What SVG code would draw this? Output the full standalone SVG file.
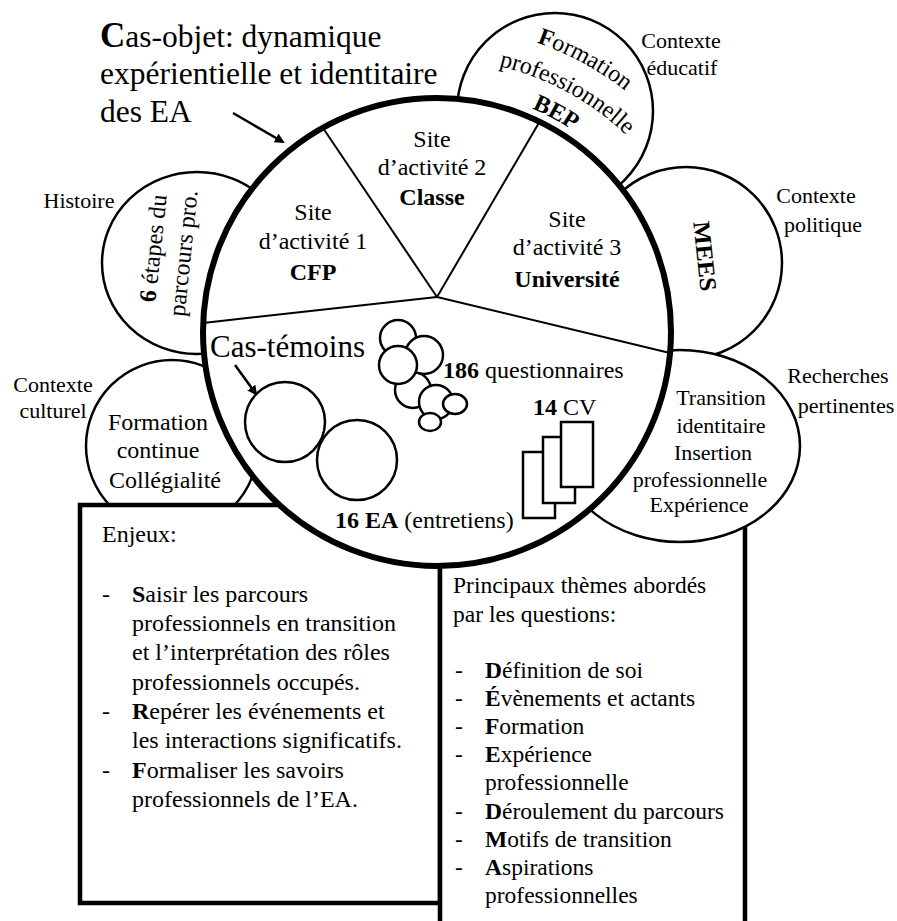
<svg xmlns="http://www.w3.org/2000/svg" width="897" height="921" viewBox="0 0 897 921">
<style>
text{font-family:"Liberation Serif","Times New Roman",serif;fill:#000}
.petal{fill:#fff;stroke:#000;stroke-width:2.5}
.box{fill:#fff;stroke:#000;stroke-width:4.5}
.thin{fill:#fff;stroke:#000;stroke-width:2.5}
.pie{stroke:#000;stroke-width:2;fill:none}
.lbl{font-size:22px;text-anchor:middle}
.in{font-size:24px;text-anchor:middle}
.b{font-weight:bold}
.list{font-size:24px}
.list2{font-size:23.5px}
.arrow{stroke:#000;stroke-width:2.5;fill:none;marker-end:url(#ah)}
</style>
<defs>
<marker id="ah" markerWidth="10" markerHeight="10" refX="8" refY="5" orient="auto" markerUnits="userSpaceOnUse" viewBox="0 0 10 10">
<path d="M0,0 L10,5 L0,10 z" fill="#000"/>
</marker>
<path id="arc1" d="M277.1,71.1 A306,306 0 0 1 742.9,324"/>
<path id="arc2" d="M294.4,99.2 A273,273 0 0 1 709.9,324.85"/>
<path id="arc3" d="M310,124.8 A243,243 0 0 1 679.9,325.6"/>
</defs>
<rect width="897" height="921" fill="#fff"/>

<g id="petal-histoire">
<ellipse class="petal" cx="197" cy="263" rx="95" ry="91"/>
</g>
<g id="petal-culturel">
<circle class="petal" cx="172" cy="446" r="86"/>
</g>
<g id="petal-educatif">
<circle class="petal" cx="555" cy="111" r="98"/>
</g>
<g id="petal-politique">
<circle class="petal" cx="686" cy="263" r="96"/>
</g>

<g id="box-enjeux">
<rect class="box" x="80" y="505" width="360" height="398"/>
<text class="list" x="102" y="542">Enjeux:</text>
<text class="list" x="102" y="602">-</text>
<text class="list" x="132" y="602"><tspan class="b">S</tspan>aisir les parcours</text>
<text class="list" x="132" y="631">professionnels en transition</text>
<text class="list" x="132" y="660">et l’interprétation des rôles</text>
<text class="list" x="132" y="690">professionnels occupés.</text>
<text class="list" x="102" y="719">-</text>
<text class="list" x="132" y="719"><tspan class="b">R</tspan>epérer les événements et</text>
<text class="list" x="132" y="748">les interactions significatifs.</text>
<text class="list" x="102" y="778">-</text>
<text class="list" x="132" y="778"><tspan class="b">F</tspan>ormaliser les savoirs</text>
<text class="list" x="132" y="807">professionnels de l’EA.</text>
</g>

<g id="box-themes">
<rect class="box" x="440" y="505" width="305" height="420"/>
<text class="list2" x="453" y="593">Principaux thèmes abordés</text>
<text class="list2" x="453" y="622">par les questions:</text>
<text class="list2" x="455" y="678">-</text>
<text class="list2" x="485" y="678"><tspan class="b">D</tspan>éfinition de soi</text>
<text class="list2" x="455" y="706">-</text>
<text class="list2" x="485" y="706"><tspan class="b">É</tspan>vènements et actants</text>
<text class="list2" x="455" y="734">-</text>
<text class="list2" x="485" y="734"><tspan class="b">F</tspan>ormation</text>
<text class="list2" x="455" y="762">-</text>
<text class="list2" x="485" y="762"><tspan class="b">E</tspan>xpérience</text>
<text class="list2" x="485" y="790">professionnelle</text>
<text class="list2" x="455" y="819">-</text>
<text class="list2" x="485" y="819"><tspan class="b">D</tspan>éroulement du parcours</text>
<text class="list2" x="455" y="847">-</text>
<text class="list2" x="485" y="847"><tspan class="b">M</tspan>otifs de transition</text>
<text class="list2" x="455" y="875">-</text>
<text class="list2" x="485" y="875"><tspan class="b">A</tspan>spirations</text>
<text class="list2" x="485" y="903">professionnelles</text>
</g>

<g id="petal-recherches">
<ellipse class="petal" cx="680" cy="446" rx="120" ry="96"/>
</g>

<g id="main-circle">
<circle cx="437" cy="332" r="234" fill="#fff" stroke="#000" stroke-width="6"/>
</g>

<g id="connectors">
<line class="pie" x1="437" y1="297" x2="323" y2="128"/>
<line class="pie" x1="437" y1="297" x2="540" y2="121"/>
<line class="pie" x1="437" y1="297" x2="203" y2="323"/>
<line class="pie" x1="437" y1="297" x2="670" y2="353"/>
<line class="arrow" x1="233" y1="113" x2="283" y2="142"/>
<line class="arrow" x1="235" y1="365" x2="256" y2="394"/>
</g>

<g id="title">
<text x="100" y="47" font-size="31.5px"><tspan class="b" font-size="35px">C</tspan>as-objet: dynamique</text>
<text x="100" y="84" font-size="31.5px">expérientielle et identitaire</text>
<text x="100" y="122" font-size="31.5px">des EA</text>
</g>

<g id="site1">
<text class="in" x="313" y="220">Site</text>
<text class="in" x="313" y="249">d’activité 1</text>
<text class="in b" x="313" y="280" font-size="25px">CFP</text>
</g>
<g id="site2">
<text class="in" x="432" y="147">Site</text>
<text class="in" x="432" y="175">d’activité 2</text>
<text class="in b" x="432" y="205" font-size="25px">Classe</text>
</g>
<g id="site3">
<text class="in" x="567" y="227">Site</text>
<text class="in" x="567" y="255">d’activité 3</text>
<text class="in b" x="567" y="287" font-size="26px">Université</text>
</g>

<g id="cas-temoins">
<text x="210" y="357" font-size="31px">Cas-témoins</text>
<circle class="thin" cx="285" cy="422" r="40"/>
<circle class="thin" cx="357" cy="460" r="40"/>
<text x="335" y="528" font-size="24px"><tspan class="b">16 EA</tspan> (entretiens)</text>
</g>

<g id="questionnaires">
<circle class="thin" cx="413" cy="390" r="18"/>
<circle class="thin" cx="398" cy="338" r="18"/>
<circle class="thin" cx="424" cy="355" r="19"/>
<circle class="thin" cx="398" cy="365" r="19"/>
<circle class="thin" cx="436" cy="402" r="17"/>
<ellipse class="thin" cx="455" cy="404" rx="12" ry="10"/>
<ellipse class="thin" cx="430" cy="422" rx="11" ry="9"/>
<text x="443" y="378" font-size="24px"><tspan class="b">186</tspan> questionnaires</text>
</g>

<g id="cv">
<rect class="thin" x="523" y="452" width="32" height="66"/>
<rect class="thin" x="543" y="437" width="32" height="66"/>
<rect class="thin" x="561" y="422" width="32" height="65"/>
<text x="533" y="415" font-size="24px"><tspan class="b">14</tspan> CV</text>
</g>

<g id="petal-texts">
<text class="in" font-size="23.5px"><textPath href="#arc1" startOffset="50%"><tspan class="b">F</tspan>ormation</textPath></text>
<text class="in" font-size="23.5px"><textPath href="#arc2" startOffset="50%">professionnelle</textPath></text>
<text class="in b" font-size="23.5px"><textPath href="#arc3" startOffset="50%">BEP</textPath></text>
<text class="in b" font-size="36px" transform="translate(697,257) rotate(84)" textLength="70" lengthAdjust="spacingAndGlyphs">MEES</text>
<text class="in" transform="translate(161,249) rotate(-84)"><tspan class="b">6</tspan> étapes du</text>
<text class="in" transform="translate(191,254) rotate(-84)">parcours pro.</text>
<text class="in" x="158" y="430">Formation</text>
<text class="in" x="158" y="458">continue</text>
<text class="in" x="165" y="488">Collégialité</text>
<text class="lbl" x="721" y="405">Transition</text>
<text class="lbl" x="721" y="433">identitaire</text>
<text class="lbl" x="713" y="460">Insertion</text>
<text class="lbl" x="700" y="487">professionnelle</text>
<text class="lbl" x="699" y="512">Expérience</text>
</g>

<g id="outer-labels">
<text class="lbl" x="681" y="48">Contexte</text>
<text class="lbl" x="682" y="75">éducatif</text>
<text class="lbl" x="816" y="203">Contexte</text>
<text class="lbl" x="823" y="232">politique</text>
<text class="lbl" x="838" y="383">Recherches</text>
<text class="lbl" x="846" y="413">pertinentes</text>
<text class="lbl" x="79" y="208">Histoire</text>
<text class="lbl" x="53" y="392">Contexte</text>
<text class="lbl" x="53" y="418">culturel</text>
</g>
</svg>
